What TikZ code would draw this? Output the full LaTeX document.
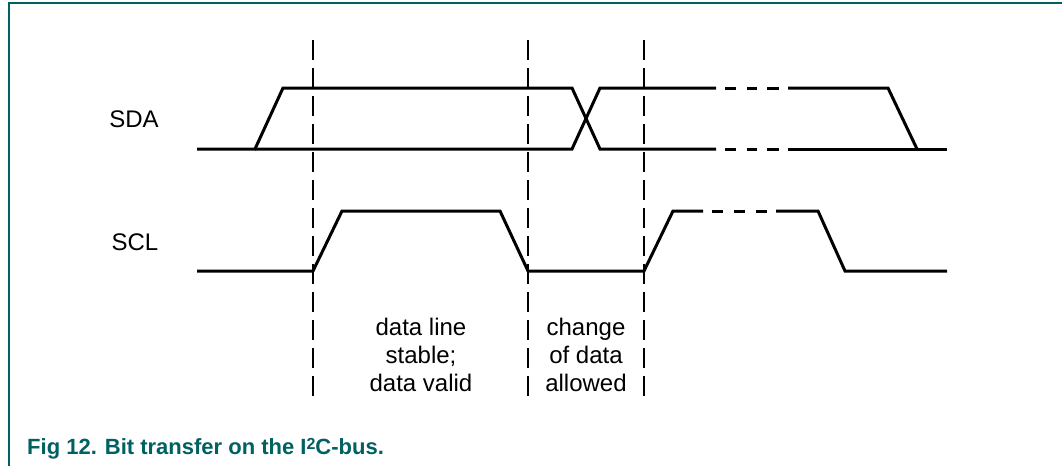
\documentclass[tikz,border=0pt]{standalone}
\usepackage{fontspec}
\setmainfont{Liberation Sans}
\definecolor{figteal}{RGB}{0,96,98}

\begin{document}
\begin{tikzpicture}[
  x=1pt, y=-1pt,
  sig/.style={line width=3pt, line join=miter},
  tline/.style={line width=1.3pt, dash pattern=on 20pt off 8pt},
  frame/.style={line width=1.3pt, draw=figteal},
  lbl/.style={font=\fontsize{24}{28}\selectfont, align=center, inner sep=0pt},
]
\useasboundingbox (0,0) rectangle (1062,466);

% frame
\draw [frame] (9,466) -- (9,3) -- (1062,3);

% timing lines
\draw [tline] (313,40) -- (313,396);
\draw [tline] (528,40) -- (528,396);
\draw [tline] (644,40) -- (644,396);

% SDA
\node [lbl, anchor=base] (sda) at (134,127) {SDA};
\draw [sig] (197,149) -- (255,149) -- (283,88) -- (572,88) -- (600,149) -- (716,149);
\draw [sig] (255,149) -- (572,149) -- (600,88) -- (716,88);
\foreach \a/\b in {725/736,747/757,767/779} {
  \draw [sig] (\a,88) -- (\b,88);
  \draw [sig] (\a,149) -- (\b,149);
}
\draw [sig] (788,88) -- (888,88) -- (917,149);
\draw [sig] (788,149) -- (947,149);

% SCL
\node [lbl, anchor=base] (scl) at (135,250) {SCL};
\draw [sig] (197,271) -- (313,271) -- (342,211) -- (500,211) -- (528,271)
  -- (644,271) -- (673,211) -- (703,211);
\foreach \a/\b in {712/723,734/745,756/767}
  \draw [sig] (\a,211) -- (\b,211);
\draw [sig] (776,211) -- (818,211) -- (845,271) -- (947,271);

% phases
\node [lbl, anchor=base] (stable) at (421,391) {data line\\stable;\\data valid};
\node [lbl, anchor=base] (change) at (586,391) {change\\of data\\allowed};

% caption
\node [anchor=base west, inner sep=0pt, text=figteal,
  font=\fontsize{22}{26}\selectfont\bfseries] (cap) at (27,454)
  {Fig 12.\hspace{8pt}Bit transfer on the I\raisebox{5pt}{\fontsize{16}{16}\selectfont 2}C-bus.};
\end{tikzpicture}
\end{document}
